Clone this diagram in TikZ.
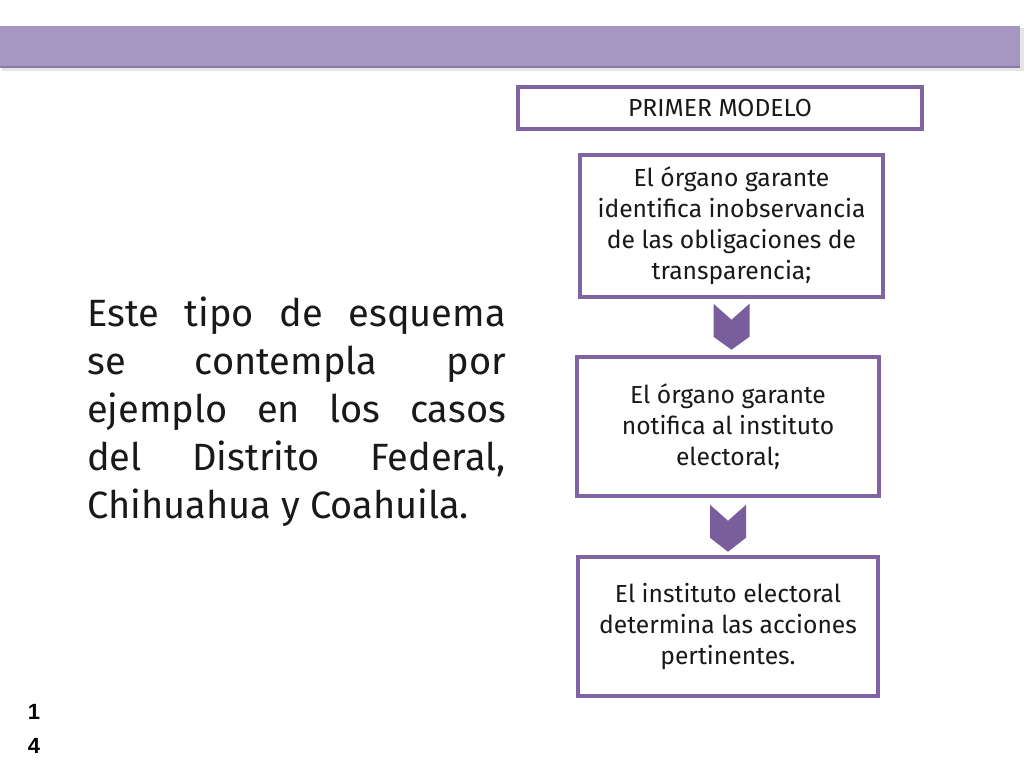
\documentclass[tikz,border=0pt]{standalone}
\usepackage{fontspec}
\usepackage{tikz}
\setmainfont{Fira Sans}
\newfontfamily\numfont{Liberation Sans}
\usetikzlibrary{positioning}
\definecolor{mlilac}{rgb}{0.65, 0.59, 0.76}
\definecolor{mlilacdark}{rgb}{0.55, 0.48, 0.67}
\definecolor{mpurple}{rgb}{0.50, 0.39, 0.63}
\definecolor{mchev}{rgb}{0.47, 0.37, 0.61}
\definecolor{mtext}{rgb}{0.1, 0.1, 0.1}

\begin{document}
\begin{tikzpicture}[x=0.75pt, y=-0.75pt,
    stepbox/.style={draw=mpurple, line width=2.6pt, fill=white, align=center,
        text=mtext, font=\fontsize{18.5}{23.25}\selectfont, inner sep=0pt},
    pagenum/.style={font=\numfont\bfseries\fontsize{16.5}{20}\selectfont, inner sep=0pt},
    chev/.style={fill=mchev}]
    \useasboundingbox (0, 0) rectangle (1024, 768);
    \fill [white] (0, 0) rectangle (1024, 768);

    % banner
    \fill [black!10] (2, 28) rectangle (1024, 71);
    \fill [mlilac] (0, 26) rectangle (1020, 68);
    \draw [mlilacdark, line width=1.2pt] (0, 67) -- (1020, 67);

    \node [stepbox, minimum width=303pt, minimum height=31.5pt] (title) at (720, 108) {PRIMER MODELO};
    \node [stepbox, minimum width=227.25pt, minimum height=106.5pt] (b1) at (731.5, 226)
        {El órgano garante\\identifica inobservancia\\de las obligaciones de\\transparencia;};
    \node [stepbox, minimum width=226.5pt, minimum height=104.25pt] (b2) at (728, 426.5)
        {El órgano garante\\notifica al instituto\\electoral;};
    \node [stepbox, minimum width=225pt, minimum height=104.25pt] (b3) at (728, 626.5)
        {El instituto electoral\\determina las acciones\\pertinentes.};

    \fill [chev, shift={(b1.south)}] (-18, 5) -- (0, 21) -- (18, 5) -- (18, 38) -- (0, 51) -- (-18, 38) -- cycle;
    \fill [chev, shift={(b2.south)}] (-18, 7) -- (0, 23) -- (18, 7) -- (18, 40) -- (0, 54) -- (-18, 40) -- cycle;

    \node [anchor=base west, text width=314pt, align=justify, inner sep=0pt, text=mtext,
        font=\fontsize{28.5}{36}\selectfont] (info) at (87, 326)
        {Este tipo de esquema\linebreak se contempla por\linebreak ejemplo en los casos\linebreak del Distrito Federal,\linebreak Chihuahua y Coahuila.};

    \node [pagenum, anchor=base] (pg1) at (34, 719) {1};
    \node [pagenum, anchor=base] (pg2) at (34, 753) {4};
\end{tikzpicture}
\end{document}
